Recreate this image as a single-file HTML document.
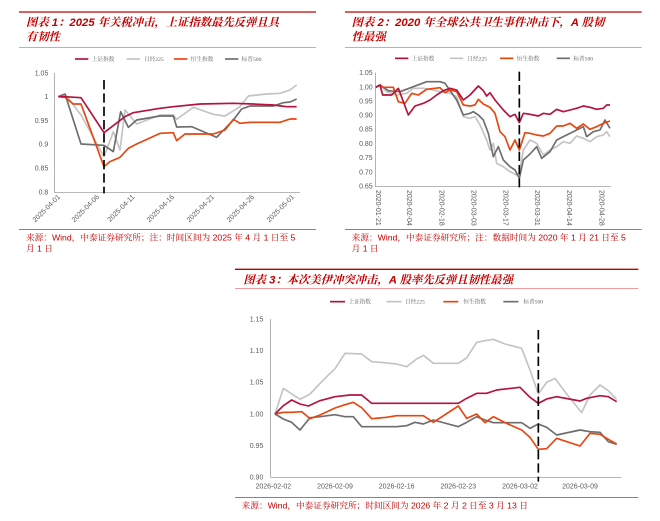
<!DOCTYPE html>
<html><head><meta charset="utf-8"><style>
html,body{margin:0;padding:0;background:#fff;}
svg{display:block;}
text{font-family:"Liberation Sans","Noto Sans CJK SC",sans-serif;}
.t{font-family:"Liberation Sans","Noto Serif CJK SC","Noto Sans CJK SC",sans-serif;font-weight:bold;font-style:italic;fill:#c00000;font-size:34px;}
.f{font-family:"Liberation Sans","Noto Serif CJK SC","Noto Sans CJK SC",sans-serif;fill:#c00000;font-size:26px;}
.lg{font-size:17px;fill:#666;font-family:"Liberation Serif","Noto Serif CJK SC",serif;}
.tk{font-size:21px;fill:#595959;}
.s1{fill:none;stroke:#b5123c;stroke-width:5;stroke-linejoin:round;}
.s2{fill:none;stroke:#c4c4c4;stroke-width:5;stroke-linejoin:round;}
.s3{fill:none;stroke:#e8460f;stroke-width:5;stroke-linejoin:round;}
.s4{fill:none;stroke:#6e6e6e;stroke-width:5;stroke-linejoin:round;}
.ax{stroke:#8c8c8c;stroke-width:2;fill:none;}
.dash{stroke:#000;stroke-width:5;stroke-dasharray:28,12;}
</style></head><body>
<svg width="660" height="521" viewBox="0 0 660 521" xmlns="http://www.w3.org/2000/svg">
<!-- Panel 1 -->
<g transform="scale(0.33333)">
<line x1="57" y1="36" x2="948" y2="36" stroke="#c00000" stroke-width="4"/>
<text class="t" x="78" y="78">图表 1：2025 年关税冲击，上证指数最先反弹且具</text>
<text class="t" x="78" y="122">有韧性</text>
<line x1="57" y1="142" x2="948" y2="142" stroke="#e06060" stroke-width="2"/>
<line x1="225" y1="177" x2="265" y2="177" class="s1"/><text class="lg" x="275" y="183">上证指数</text>
<line x1="380" y1="177" x2="420" y2="177" class="s2"/><text class="lg" x="432" y="183">日经225</text>
<line x1="522" y1="177" x2="562" y2="177" class="s3"/><text class="lg" x="572" y="183">恒生指数</text>
<line x1="675" y1="177" x2="715" y2="177" class="s4"/><text class="lg" x="725" y="183">标普500</text>
<path class="ax" d="M163 219V577H900"/>
<g class="tk" text-anchor="end">
<text x="145" y="226">1.05</text><text x="145" y="297">1</text><text x="145" y="369">0.95</text><text x="145" y="440">0.9</text><text x="145" y="512">0.85</text><text x="145" y="584">0.8</text>
</g>
<g class="tk" text-anchor="end">
<text transform="translate(182,592) rotate(-45)">2025-04-01</text>
<text transform="translate(299,592) rotate(-45)">2025-04-06</text>
<text transform="translate(405,592) rotate(-45)">2025-04-11</text>
<text transform="translate(524,592) rotate(-45)">2025-04-16</text>
<text transform="translate(644,592) rotate(-45)">2025-04-21</text>
<text transform="translate(764,592) rotate(-45)">2025-04-26</text>
<text transform="translate(884,592) rotate(-45)">2025-05-01</text>
</g>
<polyline class="s2" points="175,290 195,282 243,345 312,470 340,395 360,450 375,330 410,372 480,345 520,345 530,358 580,322 640,343 675,348 720,320 745,288 800,282 840,280 870,270 890,255"/>
<polyline class="s4" points="175,290 195,282 243,432 312,436 340,455 362,335 385,382 410,360 480,348 520,348 530,381 575,380 650,412 700,360 725,327 750,318 820,318 850,308 870,306 890,297"/>
<polyline class="s3" points="175,290 195,292 220,312 243,312 312,500 330,485 360,472 385,445 410,432 480,400 520,398 530,422 555,402 640,402 675,390 700,358 720,370 750,367 840,367 870,357 890,357"/>
<polyline class="s1" points="175,290 195,290 243,293 312,398 375,350 400,338 480,325 520,320 600,312 700,310 760,312 820,315 860,320 890,320"/>
<line class="dash" x1="312" y1="240" x2="312" y2="580"/>
<line x1="57" y1="688" x2="948" y2="688" stroke="#c00000" stroke-width="2"/>
<text class="f" x="78" y="722">来源：Wind，中泰证券研究所；注：时间区间为 2025 年 4 月 1 日至 5</text>
<text class="f" x="78" y="755">月 1 日</text>
</g>
<!-- Panel 2 -->
<g transform="translate(330,0) scale(0.33333)">
<line x1="45" y1="36" x2="935" y2="36" stroke="#c00000" stroke-width="4"/>
<text class="t" x="65" y="78">图表 2：2020 年全球公共卫生事件冲击下，A 股韧</text>
<text class="t" x="65" y="122">性最强</text>
<line x1="45" y1="142" x2="935" y2="142" stroke="#e06060" stroke-width="2"/>
<line x1="195" y1="175" x2="235" y2="175" class="s1"/><text class="lg" x="245" y="181">上证指数</text>
<line x1="360" y1="175" x2="400" y2="175" class="s2"/><text class="lg" x="412" y="181">日经225</text>
<line x1="510" y1="175" x2="550" y2="175" class="s3"/><text class="lg" x="560" y="181">恒生指数</text>
<line x1="680" y1="175" x2="720" y2="175" class="s4"/><text class="lg" x="730" y="181">标普500</text>
<path class="ax" d="M137 218V560H842"/>
<g class="tk" text-anchor="end">
<text x="128" y="225">1.05</text><text x="128" y="268">1.00</text><text x="128" y="310">0.95</text><text x="128" y="353">0.90</text><text x="128" y="395">0.85</text><text x="128" y="438">0.80</text><text x="128" y="480">0.75</text><text x="128" y="523">0.70</text><text x="128" y="566">0.65</text>
</g>
<g class="tk">
<text transform="translate(138,570) rotate(90)">2020-01-21</text>
<text transform="translate(231,570) rotate(90)">2020-02-04</text>
<text transform="translate(328,570) rotate(90)">2020-02-18</text>
<text transform="translate(425,570) rotate(90)">2020-03-03</text>
<text transform="translate(520,570) rotate(90)">2020-03-17</text>
<text transform="translate(615,570) rotate(90)">2020-03-31</text>
<text transform="translate(711,570) rotate(90)">2020-04-14</text>
<text transform="translate(808,570) rotate(90)">2020-04-28</text>
</g>
<polyline class="s2" points="137,262 150,255 170,275 200,285 230,280 250,265 280,265 300,268 330,275 360,280 380,290 400,350 420,355 435,350 450,375 470,420 480,450 490,430 500,490 520,500 540,515 560,525 568,520 580,450 600,420 620,430 640,465 660,450 680,440 700,425 720,430 740,408 760,415 780,425 800,410 820,405 830,395 840,410"/>
<polyline class="s4" points="137,262 150,255 175,272 210,275 250,260 290,245 330,245 345,250 380,300 400,345 420,340 430,335 445,345 460,360 475,400 490,470 505,440 520,480 540,500 555,510 568,535 580,480 600,462 620,440 635,475 660,455 680,420 700,410 720,400 740,390 760,380 770,410 790,395 810,390 825,360 840,385"/>
<polyline class="s3" points="137,262 150,255 160,262 190,262 205,305 225,310 245,280 265,285 290,268 330,263 345,278 360,270 380,275 400,315 420,318 435,315 445,298 460,312 480,322 495,340 510,395 525,410 540,450 555,420 568,450 585,398 600,400 620,405 640,408 660,400 680,378 700,378 720,370 740,385 760,372 780,388 800,380 820,370 840,363"/>
<polyline class="s1" points="137,262 150,255 158,285 185,285 205,265 235,345 255,318 280,310 300,300 320,285 340,272 360,265 380,270 400,300 420,285 445,258 460,272 470,288 480,278 495,300 520,330 540,350 555,343 568,368 580,340 600,343 625,348 640,340 660,343 680,328 700,335 720,330 740,325 760,318 780,322 800,328 820,325 830,315 840,315"/>
<line class="dash" x1="568" y1="215" x2="568" y2="562"/>
<line x1="45" y1="688" x2="935" y2="688" stroke="#c00000" stroke-width="2"/>
<text class="f" x="65" y="722">来源：Wind，中泰证券研究所；注：数据时间为 2020 年 1 月 21 日至 5</text>
<text class="f" x="65" y="755">月 1 日</text>
</g>
<!-- Panel 3 -->
<g transform="translate(220,260) scale(0.33333)">
<line x1="45" y1="28" x2="1255" y2="28" stroke="#c00000" stroke-width="4"/>
<text class="t" x="70" y="70">图表 3：本次美伊冲突冲击，A 股率先反弹且韧性最强</text>
<line x1="45" y1="85" x2="1255" y2="85" stroke="#e06060" stroke-width="2"/>
<line x1="330" y1="125" x2="375" y2="125" class="s1"/><text class="lg" x="385" y="131">上证指数</text>
<line x1="500" y1="125" x2="545" y2="125" class="s2"/><text class="lg" x="555" y="131">日经225</text>
<line x1="670" y1="125" x2="715" y2="125" class="s3"/><text class="lg" x="730" y="131">恒生指数</text>
<line x1="850" y1="125" x2="895" y2="125" class="s4"/><text class="lg" x="910" y="131">标普500</text>
<path class="ax" d="M152 177V652H1205"/>
<g class="tk" text-anchor="end">
<text x="130" y="184">1.15</text><text x="130" y="279">1.10</text><text x="130" y="374">1.05</text><text x="130" y="469">1.00</text><text x="130" y="564">0.95</text><text x="130" y="659">0.90</text>
</g>
<g class="tk" text-anchor="middle">
<text x="160" y="685">2026-02-02</text><text x="345" y="685">2026-02-09</text><text x="530" y="685">2026-02-16</text><text x="715" y="685">2026-02-23</text><text x="900" y="685">2026-03-02</text><text x="1080" y="685">2026-03-09</text>
</g>
<polyline class="s2" points="165,462 190,385 240,418 270,402 310,360 345,326 375,280 425,282 455,305 480,307 530,312 560,320 590,297 610,286 640,310 715,310 740,294 770,247 795,242 820,238 855,252 905,265 930,330 955,402 980,367 1005,355 1040,402 1085,458 1110,405 1140,375 1165,392 1190,418"/>
<polyline class="s4" points="165,462 190,477 215,487 240,510 270,473 300,470 345,464 375,470 400,470 425,500 455,500 530,500 560,497 585,487 610,492 640,480 715,500 740,487 770,470 795,480 820,488 905,488 930,505 955,492 980,502 1010,525 1080,510 1110,515 1140,517 1165,545 1190,553"/>
<polyline class="s3" points="165,462 190,457 215,457 245,455 270,476 300,465 345,444 375,434 400,427 425,443 455,476 500,472 530,467 610,467 640,487 715,438 740,475 770,462 795,488 820,470 855,488 905,510 930,532 955,568 980,566 1010,535 1080,558 1110,520 1140,523 1165,538 1190,552"/>
<polyline class="s1" points="165,462 190,437 215,420 240,432 265,438 300,422 345,410 390,405 425,405 455,430 715,430 740,415 770,400 800,400 830,390 900,382 930,412 955,430 980,417 1010,410 1080,423 1100,415 1140,407 1165,410 1190,425"/>
<line class="dash" x1="955" y1="210" x2="955" y2="665"/>
<line x1="45" y1="712" x2="1255" y2="712" stroke="#c00000" stroke-width="2"/>
<text class="f" x="65" y="746">来源：Wind，中泰证券研究所；时间区间为 2026 年 2 月 2 日至 3 月 13 日</text>
</g>
</svg>
</body></html>
